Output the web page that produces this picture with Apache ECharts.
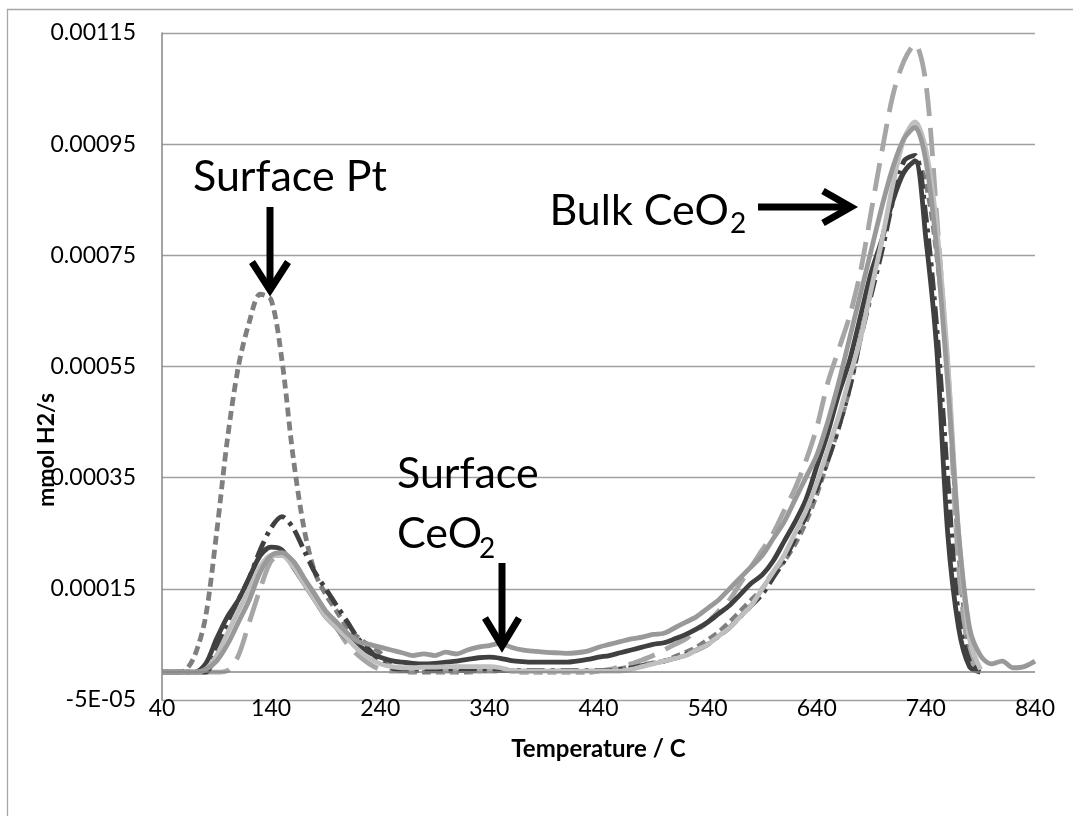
<!DOCTYPE html>
<html><head><meta charset="utf-8">
<script src="https://cdn.jsdelivr.net/npm/echarts@6/dist/echarts.min.js"></script>
<style>html,body{margin:0;padding:0;background:#fff;} #c{width:1073px;height:816px;}</style>
</head><body><div id="c"></div>
<script>
// Temperature grid (C)
const temps = [40,50,60,70,80,90,100,110,120,130,140,150,160,170,180,190,200,210,220,230,240,250,260,270,280,290,300,310,320,330,340,350,360,370,380,390,400,410,420,430,440,450,460,470,480,490,500,510,520,530,540,550,560,570,580,590,600,610,620,630,640,650,660,670,680,690,700,710,720,730,740,750,760,770,780,790,800,810,820,830,840];

// mmol H2/s
const seriesShortDash = [0,0,0.000002,0.00003,0.0001,0.00025,0.00042,0.00055,0.00063,0.00068,0.00067,0.00056,0.00039,0.00026,0.00018,0.00014,0.00011,0.00008,0.000062,0.000048,0.000035,0.000012,0.000003,0,0,0,0,0,0,0.000002,0.000005,0.000005,0.000003,0,0,0,0,0,0,0,0.000002,0.000004,0.000006,0.00001,0.000013,0.000017,0.00002,0.000028,0.000036,0.000045,0.000058,0.000072,0.00009,0.00011,0.00013,0.00015,0.00018,0.0002,0.00023,0.00027,0.00032,0.00038,0.00044,0.00051,0.0006,0.00069,0.00078,0.00086,0.0009,0.00092,0.00088,0.00075,0.00055,0.00022,0.00004,0.000005,null,null,null,null,null];

const seriesLongDashLight = [0,0,0,0,0,0,0.000003,0.00003,0.00009,0.00015,0.0002,0.00021,0.0002,0.00017,0.00014,0.00011,0.00008,0.00005,0.00003,0.000015,0.000005,0.000002,0.000002,0.000002,0.000002,0.000002,0.000002,0.000002,0.000002,0.000002,0.000002,0.000002,0.000002,0.000002,0.000002,0.000002,0.000002,0.000002,0.000002,0.000002,0.000002,0.000005,0.00001,0.000015,0.000022,0.00003,0.00004,0.00005,0.00006,0.000075,0.00009,0.00011,0.00013,0.00016,0.00019,0.00022,0.00025,0.00029,0.00033,0.00038,0.00044,0.00052,0.00058,0.00064,0.00072,0.00083,0.00094,0.00104,0.0011,0.00113,0.00106,0.00082,0.00054,0.00019,0.00003,0,null,null,null,null,null];

const seriesSolidDark = [0,0,0,0,0.000015,0.00006,0.0001,0.00013,0.00017,0.00021,0.000225,0.00022,0.00019,0.00016,0.00013,0.0001,0.00008,0.00006,0.000048,0.000035,0.000027,0.000021,0.000018,0.000016,0.000015,0.000016,0.000018,0.00002,0.000023,0.000026,0.000027,0.000025,0.000021,0.000019,0.000018,0.000018,0.000018,0.000018,0.00002,0.000023,0.000027,0.00003,0.000035,0.00004,0.000045,0.00005,0.000053,0.00006,0.000068,0.000078,0.00009,0.000105,0.00012,0.00014,0.00016,0.000175,0.0002,0.000235,0.00027,0.00031,0.00037,0.00043,0.0005,0.00056,0.00064,0.00072,0.00078,0.00085,0.0009,0.00092,0.00078,0.00058,0.00025,0.00008,0.00001,0,null,null,null,null,null];

const seriesDashDotDark = [0,0,0,0,0,0.00004,0.00009,0.00013,0.00017,0.00022,0.00026,0.00028,0.00026,0.00022,0.00018,0.00015,0.00012,0.00009,0.00006,0.00004,0.00002,0.000008,0.000003,0.000003,0.000003,0.000003,0.000003,0.000003,0.000003,0.000003,0.000003,0.000003,0.000003,0.000003,0.000003,0.000003,0.000003,0.000003,0.000003,0.000003,0.000003,0.000003,0.000005,0.000008,0.000012,0.000016,0.00002,0.000025,0.000032,0.00004,0.00005,0.000065,0.00008,0.0001,0.00012,0.00014,0.00017,0.0002,0.00024,0.00028,0.00033,0.00038,0.00044,0.00051,0.0006,0.00068,0.00076,0.00085,0.00092,0.00093,0.00082,0.00062,0.00035,0.0001,0.00002,0,null,null,null,null,null];

const seriesSolidLight = [0,0,0,0,0.000005,0.00003,0.00007,0.00011,0.00015,0.00019,0.00021,0.00021,0.00019,0.00016,0.00013,0.0001,0.00008,0.00006,0.00004,0.000025,0.000015,0.00001,0.000008,0.000008,0.000009,0.000009,0.00001,0.00001,0.00001,0.00001,0.00001,0.000008,0.000003,0.000002,0.000002,0.000002,0.000002,0.000002,0.000002,0.000002,0.000002,0.000002,0.000002,0.000005,0.00001,0.000015,0.00002,0.000025,0.00003,0.00004,0.00005,0.000065,0.00008,0.0001,0.00012,0.00015,0.00018,0.00021,0.00025,0.00029,0.00034,0.0004,0.00046,0.00053,0.0006,0.00069,0.00078,0.00088,0.00096,0.00099,0.00094,0.0008,0.00056,0.00025,0.00006,0.000005,null,null,null,null,null];

const seriesSolidMedium = [0,0,0,0,0.000005,0.00002,0.00005,0.00009,0.00013,0.00018,0.00021,0.000215,0.0002,0.00017,0.00014,0.00011,0.00009,0.00007,0.000055,0.00005,0.000045,0.00004,0.000035,0.00003,0.000033,0.00003,0.000036,0.000033,0.00004,0.000045,0.000048,0.000052,0.000045,0.00004,0.000038,0.000036,0.000035,0.000034,0.000035,0.000038,0.000045,0.00005,0.000055,0.00006,0.000063,0.000068,0.00007,0.00008,0.00009,0.0001,0.000115,0.00013,0.00015,0.00017,0.00019,0.00021,0.00024,0.00027,0.00031,0.00035,0.00039,0.00045,0.00052,0.0006,0.00068,0.00076,0.00084,0.00091,0.00096,0.00098,0.00092,0.00076,0.00052,0.00025,0.00008,0.00003,0.000015,0.00002,0.000008,0.00001,0.00002];

const xTickLabels = [40,140,240,340,440,540,640,740,840];
const yTickLabels = ['-5E-05','0.00015','0.00035','0.00055','0.00075','0.00095','0.00115'];

const FONT = 'Lato';
const pairs = arr => temps.map((t, i) => [t, arr[i]]);

function mkSeries(name, data, color, type, width, z) {
  return {
    name, type: 'line', data: pairs(data), showSymbol: false, symbol: 'none',
    smooth: 0.3, z, connectNulls: false,
    lineStyle: { color, width, type, cap: 'butt', join: 'round' }
  };
}

const chart = echarts.init(document.getElementById('c'), null, { renderer: 'canvas' });
chart.setOption({
  animation: false,
  backgroundColor: '#fff',
  grid: { left: 162, right: 38, top: 33, bottom: 116, containLabel: false },
  xAxis: {
    type: 'value', min: 40, max: 840, interval: 100,
    name: 'Temperature / C', nameLocation: 'middle', nameGap: 37,
    nameTextStyle: { fontFamily: FONT, fontWeight: 'bold', fontSize: 24, color: '#000' },
    axisLine: { show: false },
    axisTick: { show: false },
    splitLine: { show: false },
    axisLabel: { customValues: xTickLabels, fontFamily: FONT, fontSize: 23, color: '#000', margin: -3 }
  },
  yAxis: {
    type: 'value', min: -0.00005, max: 0.00115, interval: 0.0002,
    axisLine: { show: true, lineStyle: { color: '#868686', width: 1.5 } },
    axisTick: { show: false },
    splitLine: { show: true, lineStyle: { color: '#a0a0a0', width: 1.3 } },
    axisLabel: {
      fontFamily: FONT, fontSize: 23, color: '#000', margin: 26,
      formatter: v => {
        const k = Math.round((v + 0.00005) / 0.0002);
        return yTickLabels[k] !== undefined ? yTickLabels[k] : '';
      }
    }
  },
  graphic: [
    { type: 'rect', shape: { x: 7.5, y: 9.5, width: 1200, height: 1000 }, style: { fill: 'none', stroke: '#a6a6a6', lineWidth: 1.3 }, z: 0 },
    { type: 'text', style: { text: 'mmol H2/s', x: 47, y: 450, font: 'bold 23px Lato', fill: '#000', align: 'center', verticalAlign: 'middle' }, rotation: Math.PI / 2, x: 0, y: 0, originX: 47, originY: 450, z: 10 },
    { type: 'text', style: { text: 'Surface Pt', x: 193, y: 177.5, font: '43px Lato', fill: '#000', align: 'left', verticalAlign: 'middle' }, z: 10 },
    { type: 'text', style: { text: 'Surface', x: 397, y: 474.5, font: '43px Lato', fill: '#000', align: 'left', verticalAlign: 'middle' }, z: 10 },
    { type: 'text', style: { text: 'CeO', x: 397, y: 534, font: '43px Lato', fill: '#000', align: 'left', verticalAlign: 'middle' }, z: 10 },
    { type: 'text', style: { text: '2', x: 479, y: 549, font: '28px Lato', fill: '#000', align: 'left', verticalAlign: 'middle' }, z: 10 },
    { type: 'text', style: { text: 'Bulk CeO', x: 729, y: 211, font: '43px Lato', fill: '#000', align: 'right', verticalAlign: 'middle' }, z: 10 },
    { type: 'text', style: { text: '2', x: 730, y: 224, font: '28px Lato', fill: '#000', align: 'left', verticalAlign: 'middle' }, z: 10 },
    // arrows
    { type: 'line', shape: { x1: 270, y1: 207, x2: 270, y2: 288 }, style: { stroke: '#000', lineWidth: 7 }, z: 10 },
    { type: 'polyline', shape: { points: [[252, 262], [270, 290], [288, 262]] }, style: { stroke: '#000', lineWidth: 7, fill: 'none', lineJoin: 'miter' }, z: 10 },
    { type: 'line', shape: { x1: 502, y1: 563, x2: 502, y2: 644 }, style: { stroke: '#000', lineWidth: 7 }, z: 10 },
    { type: 'polyline', shape: { points: [[485, 618], [502, 646], [519, 618]] }, style: { stroke: '#000', lineWidth: 7, fill: 'none', lineJoin: 'miter' }, z: 10 },
    { type: 'line', shape: { x1: 758, y1: 207, x2: 849, y2: 207 }, style: { stroke: '#000', lineWidth: 7 }, z: 10 },
    { type: 'polyline', shape: { points: [[823, 191], [851, 207], [823, 223]] }, style: { stroke: '#000', lineWidth: 7, fill: 'none', lineJoin: 'miter' }, z: 10 }
  ],
  series: [
    {
      name: 'zero', type: 'line', data: [], z: 1, silent: true,
      markLine: {
        silent: true, symbol: ['none', 'none'], label: { show: false },
        lineStyle: { color: '#868686', width: 1.5, type: 'solid' },
        data: [{ yAxis: 0 }]
      }
    },
    mkSeries('A', seriesShortDash, '#7f7f7f', [9, 5], 4.8, 3),
    mkSeries('B', seriesLongDashLight, '#a6a6a6', [28, 12], 4.8, 3),
    mkSeries('C', seriesSolidDark, '#404040', 'solid', 4.8, 3),
    mkSeries('D', seriesDashDotDark, '#404040', [18, 6, 4, 6], 4.8, 3),
    mkSeries('E', seriesSolidLight, '#bfbfbf', 'solid', 4.8, 3),
    mkSeries('F', seriesSolidMedium, '#999999', 'solid', 4.8, 3)
  ]
});
</script>
</body></html>
